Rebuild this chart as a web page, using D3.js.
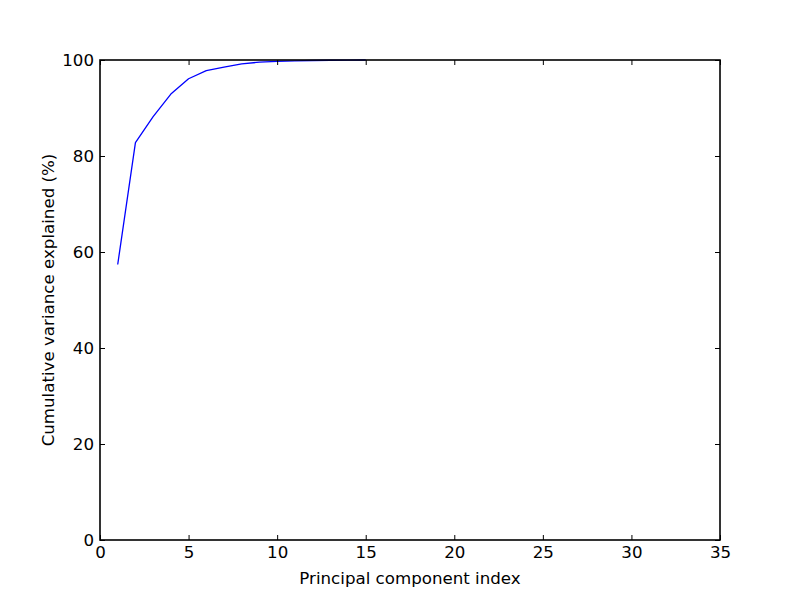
<!DOCTYPE html>
<html>
<head>
<meta charset="utf-8">
<script src="https://cdn.jsdelivr.net/npm/d3@7"></script>
<style>
  html, body { margin: 0; padding: 0; background: #fff; }
  svg { display: block; }
  text { font-family: "DejaVu Sans", sans-serif; }
</style>
</head>
<body>
<svg id="chart" width="800" height="600"></svg>
<script>
const components = [1,2,3,4,5,6,7,8,9,10,11,12,13,14,15];
const cumulativeVariance = [57.4,82.8,88.2,92.9,96.1,97.8,98.5,99.2,99.55,99.7,99.82,99.9,99.95,99.98,100];
const xTicks = [0,5,10,15,20,25,30,35];
const yTicks = [0,20,40,60,80,100];
const xLabel = "Principal component index";
const yLabel = "Cumulative variance explained (%)";

const svg = d3.select("#chart");
const L = 100, R = 720, T = 60, B = 540;
const x = d3.scaleLinear().domain([0, 35]).range([L, R]);
const y = d3.scaleLinear().domain([0, 100]).range([B, T]);
const tickLen = 5;
const fs = "16.67px";

// line
const line = d3.line().x((d, i) => x(components[i])).y(d => y(d));
svg.append("path")
  .datum(cumulativeVariance)
  .attr("d", line)
  .attr("fill", "none")
  .attr("stroke", "#0000ff")
  .attr("stroke-width", 1.3)
  .attr("stroke-linejoin", "round");

// axes (ticks inward on all sides)
const axB = d3.axisBottom(x).tickValues(xTicks).tickSizeInner(-tickLen).tickSizeOuter(0).tickPadding(6).tickFormat(d3.format("d"));
const axT = d3.axisTop(x).tickValues(xTicks).tickSizeInner(-tickLen).tickSizeOuter(0).tickFormat("");
const axL = d3.axisLeft(y).tickValues(yTicks).tickSizeInner(-tickLen).tickSizeOuter(0).tickPadding(6).tickFormat(d3.format("d"));
const axR = d3.axisRight(y).tickValues(yTicks).tickSizeInner(-tickLen).tickSizeOuter(0).tickFormat("");

function style(g) {
  g.select(".domain").remove();
  g.selectAll(".tick line").attr("stroke", "#000").attr("stroke-width", 1);
  g.selectAll(".tick text").attr("fill", "#000").style("font-size", fs).style("font-family", "'DejaVu Sans', sans-serif");
}
svg.append("g").attr("transform", `translate(0,${B})`).call(axB).call(style);
svg.append("g").attr("transform", `translate(0,${T})`).call(axT).call(style);
svg.append("g").attr("transform", `translate(${L},0)`).call(axL).call(style);
svg.append("g").attr("transform", `translate(${R},0)`).call(axR).call(style);

// frame (drawn above the line, as in the reference)
svg.append("rect")
  .attr("x", L).attr("y", T).attr("width", R - L).attr("height", B - T)
  .attr("fill", "none").attr("stroke", "#000").attr("stroke-width", 1.6);

// labels
svg.append("text")
  .attr("x", (L + R) / 2).attr("y", 584)
  .attr("text-anchor", "middle")
  .style("font-size", fs)
  .text(xLabel);
svg.append("text")
  .attr("transform", `translate(54,${(T + B) / 2}) rotate(-90)`)
  .attr("text-anchor", "middle")
  .style("font-size", fs)
  .text(yLabel);
</script>
</body>
</html>
